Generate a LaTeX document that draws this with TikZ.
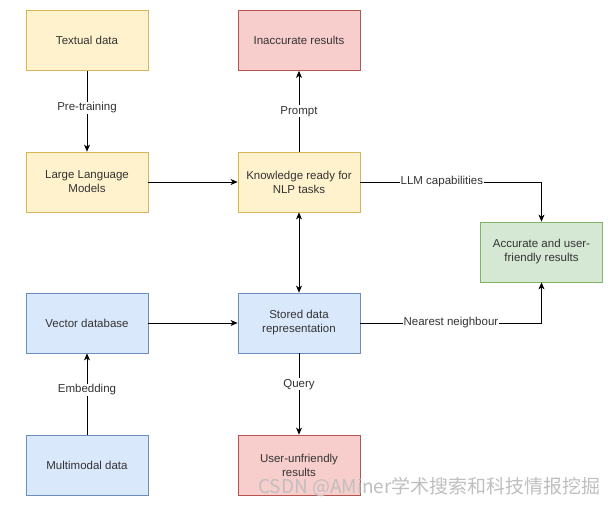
\documentclass[tikz,border=0pt]{standalone}
\usepackage{fontspec}
\setmainfont{Liberation Sans}
\newfontfamily\cjk{Noto Sans CJK SC}
\usetikzlibrary{arrows.meta,positioning}
\definecolor{yfill}{HTML}{FFF2CC}\definecolor{ydraw}{HTML}{D6B656}
\definecolor{rfill}{HTML}{F8CECC}\definecolor{rdraw}{HTML}{B85450}
\definecolor{bfill}{HTML}{DAE8FC}\definecolor{bdraw}{HTML}{6C8EBF}
\definecolor{gfill}{HTML}{D5E8D4}\definecolor{gdraw}{HTML}{82B366}
\definecolor{txt}{HTML}{333333}
\tikzset{
  box/.style={rectangle, minimum width=122pt, minimum height=60pt, align=center, font=\fontsize{11.5}{14}\selectfont, text=txt, line width=0.8pt, inner sep=2pt},
  ybox/.style={box, fill=yfill, draw=ydraw},
  rbox/.style={box, fill=rfill, draw=rdraw},
  bbox/.style={box, fill=bfill, draw=bdraw},
  gbox/.style={box, fill=gfill, draw=gdraw},
  conn/.style={line width=0.8pt, -{Stealth[length=7pt,width=6pt,inset=2pt]}},
  lbl/.style={fill=white, font=\fontsize{11.5}{14}\selectfont, text=txt, inner sep=1pt}
}
\begin{document}
\begin{tikzpicture}[x=1pt,y=-1pt]
\useasboundingbox[fill=white] (0,0) rectangle (614,506);
\node[ybox] (text) at (87,40.5) {Textual data};
\node[rbox] (inacc) at (299,40.5) {Inaccurate results};
\node[ybox] (llm) at (87,182) {Large Language\\Models};
\node[ybox] (know) at (299,182) {Knowledge ready for\\NLP tasks};
\node[gbox] (acc) at (541.5,252) {Accurate and user-\\friendly results};
\node[bbox] (vec) at (87,323) {Vector database};
\node[bbox] (stored) at (299,323) {Stored data\\representation};
\node[bbox] (multi) at (87,465) {Multimodal data};
\node[rbox] (user) at (299,465) {User-unfriendly\\results};

\draw[conn] (text) -- node[lbl, pos=0.46] {Pre-training} (llm);
\draw[conn] (know) -- node[lbl, pos=0.5] {Prompt} (inacc);
\draw[conn] (llm) -- (know);
\draw[line width=0.8pt, {Stealth[length=7pt,width=6pt,inset=2pt]}-{Stealth[length=7pt,width=6pt,inset=2pt]}] (know) -- (stored);
\draw[conn] (know.east) -- node[lbl, pos=0.45] {LLM capabilities} (know.east -| acc.north) -- (acc.north);
\draw[conn] (stored.east) -- node[lbl, pos=0.5] {Nearest neighbour} (stored.east -| acc.south) -- (acc.south);
\draw[conn] (vec) -- (stored);
\draw[conn] (multi) -- node[lbl, pos=0.55] {Embedding} (vec);
\draw[conn] (stored) -- node[lbl, pos=0.38] {Query} (user);

\node[font=\cjk\fontsize{19}{21}\selectfont, text=gray!50, anchor=east, inner sep=0pt] (wm) at (601,487) {CSDN @AMiner学术搜索和科技情报挖掘};
\end{tikzpicture}
\end{document}
